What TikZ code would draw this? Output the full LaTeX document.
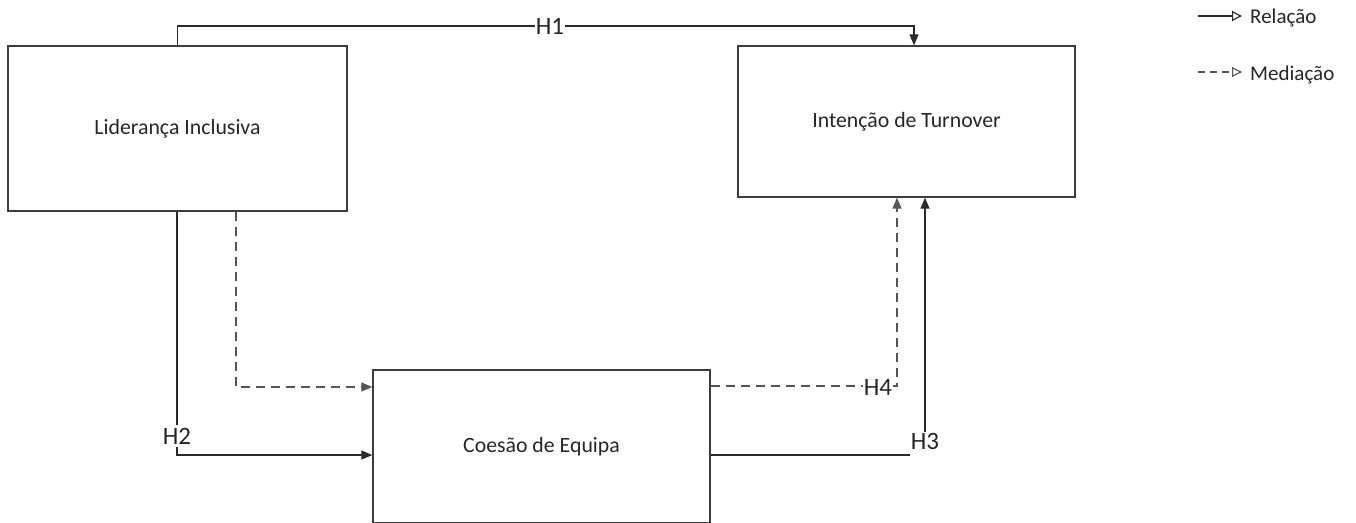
\documentclass[tikz,border=0pt]{standalone}
\usepackage{fontspec}
\setmainfont{Carlito}
\usetikzlibrary{arrows.meta}
\definecolor{boxline}{HTML}{3C3C3C}
\definecolor{conn}{HTML}{2A2A2A}
\definecolor{dashc}{HTML}{555555}
\tikzset{
  box/.style={draw=boxline, line width=1.4pt, rectangle, inner sep=0pt, font=\fontsize{21.8}{26}\selectfont, text=black!85},
  rel/.style={draw=conn, line width=1.3pt, -{Triangle[length=11pt,width=9pt]}},
  relplain/.style={draw=conn, line width=1.3pt},
  med/.style={draw=dashc, line width=1.3pt, dash pattern=on 9pt off 6pt, -{Triangle[length=11pt,width=9pt]}},
  hlab/.style={font=\fontsize{25}{30}\selectfont, text=black!85, fill=white, inner sep=1pt},
  leg/.style={font=\fontsize{21}{25}\selectfont, text=black!85, anchor=west, inner sep=0pt},
}
\begin{document}
\begin{tikzpicture}[x=1pt,y=-1pt]
\useasboundingbox (0,0) rectangle (1356,522);
% boxes
\node[box, minimum width=339pt, minimum height=165pt] (L) at (177.5,128.5) {Liderança Inclusiva};
\node[box, minimum width=337pt, minimum height=151pt] (I) at (906.5,121.5) {Intenção de Turnover};
\node[box, minimum width=337pt, minimum height=153pt] (C) at (541.5,446.5) {Coesão de Equipa};
% H1
\coordinate (h1top) at (914,26);
\draw[rel] (L.north) -- (L.north |- h1top) -- (h1top) -- (h1top |- I.north);
\node[hlab] (h1) at (550,26) {H1};
% H2
\coordinate (h2bot) at (177,455);
\draw[rel] (L.south -| h2bot) -- (h2bot) -- (C.west |- h2bot);
\node[hlab, inner ysep=3pt] (h2) at (177,436) {H2};
% dashed L -> C
\coordinate (mcorner) at (236,387);
\draw[med] (L.south -| mcorner) -- (mcorner) -- (C.west |- mcorner);
% H4
\coordinate (h4c) at (897,386);
\draw[med] (C.east |- h4c) -- (h4c) -- (h4c |- I.south);
\node[hlab] (h4) at (878,387) {H4};
% H3
\coordinate (h3a) at (910,455);
\draw[relplain] (C.east |- h3a) -- (h3a);
\node[hlab, fill=none] (h3) at (925,441) {H3};
\draw[rel] (h3.north) -- (h3.north |- I.south);
% legend
\coordinate (l1a) at (1198,16);
\coordinate (l1b) at (1242,16);
\draw[draw=conn, line width=1.2pt, -{Triangle[open,length=10pt,width=10pt,line width=1.2pt]}] (l1a) -- (l1b);
\node[leg] (t1) at (1250,18) {Relação};
\coordinate (l2a) at (1198,72);
\coordinate (l2b) at (1242,72);
\draw[draw=dashc, line width=1.2pt, dash pattern=on 7pt off 5pt, -{Triangle[open,length=10pt,width=10pt,line width=1.2pt]}] (l2a) -- (l2b);
\node[leg] (t2) at (1250,75) {Mediação};
\end{tikzpicture}
\end{document}
